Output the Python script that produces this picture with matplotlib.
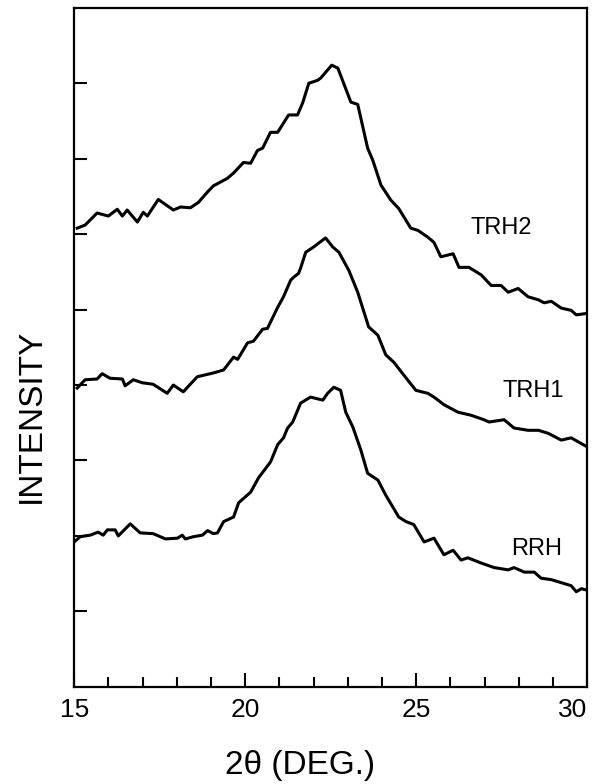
import matplotlib
matplotlib.use('Agg')
import matplotlib.pyplot as plt
from matplotlib.ticker import MultipleLocator

plt.rcParams['font.family'] = ['Liberation Sans', 'DejaVu Sans']

# (2 theta in degrees, intensity in tick units)
trh2_x = [15.09, 15.32, 15.67, 16.00, 16.26, 16.41, 16.55, 16.85, 17.02, 17.14,
          17.46, 17.90, 18.11, 18.40, 18.63, 18.90, 19.07, 19.48, 19.66, 19.95,
          20.16, 20.36, 20.51, 20.74, 20.95, 21.27, 21.53, 21.68, 21.86, 22.12,
          22.21, 22.53, 22.71, 23.09, 23.29, 23.58, 23.73, 23.97, 24.26, 24.49,
          24.84, 25.05, 25.34, 25.52, 25.72, 26.08, 26.25, 26.54, 26.90, 27.19,
          27.48, 27.69, 27.98, 28.27, 28.57, 28.74, 28.95, 29.24, 29.53, 29.68, 30.0]
trh2_y = [6.08, 6.12, 6.28, 6.24, 6.33, 6.24, 6.32, 6.16, 6.29, 6.24,
          6.46, 6.32, 6.36, 6.35, 6.42, 6.56, 6.64, 6.74, 6.81, 6.95,
          6.94, 7.11, 7.14, 7.35, 7.35, 7.58, 7.58, 7.74, 8.00, 8.04,
          8.07, 8.24, 8.20, 7.75, 7.72, 7.14, 6.98, 6.65, 6.45, 6.34,
          6.08, 6.05, 5.96, 5.89, 5.70, 5.74, 5.56, 5.56, 5.46, 5.32,
          5.32, 5.23, 5.28, 5.17, 5.13, 5.09, 5.11, 5.02, 4.99, 4.93, 4.95]

trh1_x = [15.09, 15.32, 15.67, 15.82, 16.05, 16.41, 16.49, 16.73, 16.99, 17.31,
          17.72, 17.90, 18.19, 18.60, 19.07, 19.37, 19.66, 19.78, 20.07, 20.24,
          20.51, 20.65, 20.95, 21.12, 21.33, 21.42, 21.56, 21.62, 21.77, 22.00,
          22.35, 22.56, 22.74, 23.03, 23.29, 23.61, 23.88, 24.11, 24.35, 24.64,
          24.99, 25.34, 25.52, 25.81, 26.22, 26.60, 26.98, 27.13, 27.57, 27.86,
          28.27, 28.57, 28.86, 29.24, 29.53, 30.0]
trh1_y = [3.96, 4.07, 4.08, 4.15, 4.09, 4.08, 3.99, 4.07, 4.03, 4.01,
          3.89, 4.00, 3.91, 4.11, 4.16, 4.20, 4.37, 4.34, 4.56, 4.58,
          4.74, 4.75, 5.03, 5.17, 5.39, 5.43, 5.48, 5.55, 5.76, 5.83,
          5.95, 5.83, 5.76, 5.52, 5.23, 4.77, 4.66, 4.40, 4.30, 4.13,
          3.93, 3.89, 3.84, 3.74, 3.64, 3.60, 3.54, 3.51, 3.54, 3.43,
          3.40, 3.40, 3.36, 3.27, 3.30, 3.18]

rrh_x = [15.00, 15.18, 15.47, 15.70, 15.85, 15.97, 16.20, 16.29, 16.64, 16.93,
         17.31, 17.67, 18.02, 18.16, 18.25, 18.49, 18.75, 18.90, 19.07, 19.19,
         19.37, 19.66, 19.81, 20.16, 20.39, 20.74, 20.95, 21.12, 21.24, 21.39,
         21.62, 21.91, 22.27, 22.41, 22.59, 22.79, 22.94, 23.15, 23.38, 23.58,
         23.88, 24.11, 24.49, 24.70, 24.93, 25.23, 25.52, 25.81, 26.08, 26.31,
         26.51, 26.90, 27.28, 27.69, 27.86, 28.16, 28.45, 28.65, 28.95, 29.24,
         29.53, 29.68, 29.83, 30.00]
rrh_y = [1.92, 1.99, 2.01, 2.05, 2.01, 2.08, 2.08, 2.00, 2.16, 2.04,
         2.03, 1.96, 1.97, 2.01, 1.96, 1.99, 2.01, 2.07, 2.03, 2.04,
         2.19, 2.25, 2.44, 2.58, 2.77, 2.98, 3.21, 3.30, 3.43, 3.51,
         3.76, 3.84, 3.80, 3.89, 3.97, 3.93, 3.64, 3.44, 3.14, 2.83,
         2.74, 2.54, 2.25, 2.19, 2.15, 1.92, 1.97, 1.75, 1.81, 1.68,
         1.71, 1.64, 1.58, 1.55, 1.58, 1.52, 1.52, 1.44, 1.42, 1.38,
         1.34, 1.26, 1.30, 1.28]

labels = ['TRH2', 'TRH1', 'RRH']
label_x = [27.48, 28.42, 28.51]
label_y = [6.08, 3.92, 1.83]

xticks = [15, 20, 25, 30]

fig = plt.figure(figsize=(5.98, 7.84), dpi=100)
ax = fig.add_axes([0.124, 0.124, 0.858, 0.866])

for xs, ys in [(trh2_x, trh2_y), (trh1_x, trh1_y), (rrh_x, rrh_y)]:
    ax.plot(xs, ys, color='black', lw=2.2, solid_joinstyle='round')

for name, lx, ly in zip(labels, label_x, label_y):
    ax.text(lx, ly, name, fontsize=17, ha='center', va='center')

ax.set_xlim(15, 30)
ax.set_ylim(0, 9)
ax.set_xticks(xticks)
tl = ax.set_xticklabels([str(t) for t in xticks])
tl[-1].set_horizontalalignment('right')
ax.xaxis.set_minor_locator(MultipleLocator(1))
ax.set_yticks(range(1, 9))
ax.set_yticklabels([])
ax.tick_params(axis='x', which='major', direction='in', length=10, width=1.5,
               labelsize=19, pad=8)
ax.tick_params(axis='x', which='minor', direction='in', length=7, width=1.5)
ax.tick_params(axis='y', direction='in', length=9, width=1.5)
for s in ax.spines.values():
    s.set_linewidth(1.6)

fig.text(0.502, 0.024, '2θ (DEG.)', fontsize=24, ha='center', va='center')
fig.text(0.052, 0.469, 'INTENSITY', fontsize=24, rotation=90,
         ha='center', va='center')

fig.savefig('out.png', dpi=100)
